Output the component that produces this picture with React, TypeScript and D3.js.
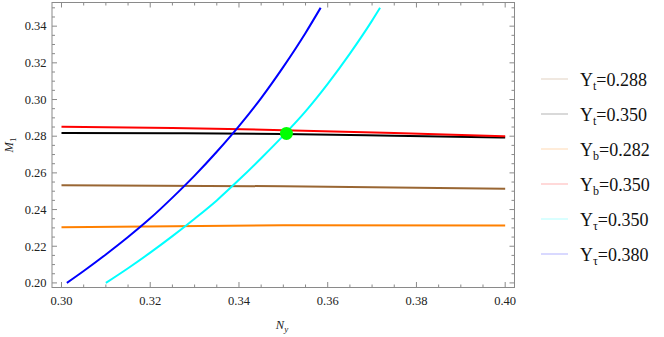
import * as d3 from "d3";

// curves: [Ny, M1]
const blueTau380: [number, number][] = [
  [0.3012, 0.2], [0.305, 0.2065], [0.31, 0.2155], [0.315, 0.225], [0.32, 0.2352],
  [0.325, 0.2465], [0.33, 0.2585], [0.335, 0.2715], [0.34, 0.2855], [0.345, 0.3008],
  [0.35, 0.3178], [0.355, 0.3363], [0.3584, 0.35],
];
const cyanTau350: [number, number][] = [
  [0.31, 0.2], [0.315, 0.208], [0.32, 0.2165], [0.325, 0.2255], [0.33, 0.235],
  [0.335, 0.245], [0.34, 0.2562], [0.345, 0.268], [0.35, 0.2803], [0.355, 0.2935],
  [0.36, 0.3085], [0.365, 0.325], [0.37, 0.343], [0.3718, 0.35],
];
const redB350: [number, number][] = [
  [0.3, 0.2852], [0.325, 0.2845], [0.35, 0.2833], [0.375, 0.2818], [0.4, 0.28],
];
const blackT350: [number, number][] = [
  [0.3, 0.2818], [0.325, 0.2816], [0.35, 0.2812], [0.375, 0.2803], [0.4, 0.2793],
];
const brownT288: [number, number][] = [
  [0.3, 0.2533], [0.35, 0.2527], [0.4, 0.2513],
];
const orangeB282: [number, number][] = [
  [0.3, 0.2304], [0.35, 0.2314], [0.4, 0.2313],
];
const point: [number, number] = [0.3507, 0.2815];

const xTicks = [0.3, 0.32, 0.34, 0.36, 0.38, 0.4];
const yTicks = [0.2, 0.22, 0.24, 0.26, 0.28, 0.3, 0.32, 0.34];

const legendNames = ["Y", "Y", "Y", "Y", "Y", "Y"];
const legendSubs = ["t", "t", "b", "b", "τ", "τ"];
const legendValues = ["0.288", "0.350", "0.282", "0.350", "0.350", "0.380"];
const legendColors = ["#996633", "#000000", "#ff8000", "#ff0000", "#00ffff", "#0000ff"];

const series = [
  { data: orangeB282, color: "#ff8000" },
  { data: brownT288, color: "#996633" },
  { data: blackT350, color: "#000000" },
  { data: redB350, color: "#ff0000" },
  { data: blueTau380, color: "#0000ff" },
  { data: cyanTau350, color: "#00ffff" },
];

const W = 664;
const H = 337;
const left = 52;
const right = 514.5;
const top = 2.5;
const bottom = 287.5;

export default function App() {
  const x = d3.scaleLinear().domain([0.29786, 0.4021]).range([left, right]);
  const y = d3.scaleLinear().domain([0.1975, 0.3529]).range([bottom, top]);
  const line = d3
    .line<[number, number]>()
    .x((d) => x(d[0]))
    .y((d) => y(d[1]))
    .curve(d3.curveMonotoneX);

  const minorX = d3.range(0.3, 0.4001, 0.005).filter((v) => !xTicks.some((t) => Math.abs(t - v) < 1e-6));
  const minorY = d3.range(0.2, 0.3501, 0.005).filter((v) => !yTicks.some((t) => Math.abs(t - v) < 1e-6));
  const frame = "#8a8a8a";
  const serif = { fontFamily: '"Liberation Serif", "Times New Roman", Tinos, "DejaVu Serif", serif' };

  return (
    <svg width={W} height={H} style={{ position: "absolute", left: 0, top: 0, background: "#fff", ...serif }}>
      <defs>
        <clipPath id="plot">
          <rect x={left} y={top} width={right - left} height={bottom - top} />
        </clipPath>
      </defs>
      <rect x={left} y={top} width={right - left} height={bottom - top} fill="none" stroke={frame} strokeWidth={1} />

      {/* x ticks, bottom and top */}
      {xTicks.map((t) => (
        <g key={"xt" + t}>
          <line x1={x(t)} x2={x(t)} y1={bottom} y2={bottom - 5.5} stroke={frame} />
          <line x1={x(t)} x2={x(t)} y1={top} y2={top + 5} stroke={frame} />
          <text x={x(t)} y={305} textAnchor="middle" fontSize={12.5} style={serif} fill="#222">
            {t.toFixed(2)}
          </text>
        </g>
      ))}
      {minorX.map((t) => (
        <g key={"xm" + t}>
          <line x1={x(t)} x2={x(t)} y1={bottom} y2={bottom - 3} stroke={frame} />
          <line x1={x(t)} x2={x(t)} y1={top} y2={top + 3} stroke={frame} />
        </g>
      ))}

      {/* y ticks, left and right */}
      {yTicks.map((t) => (
        <g key={"yt" + t}>
          <line x1={left} x2={left + 5} y1={y(t)} y2={y(t)} stroke={frame} />
          <line x1={right} x2={right - 5} y1={y(t)} y2={y(t)} stroke={frame} />
          <text x={46.5} y={y(t) + 4.3} textAnchor="end" fontSize={12.5} style={serif} fill="#222">
            {t.toFixed(2)}
          </text>
        </g>
      ))}
      {minorY.map((t) => (
        <g key={"ym" + t}>
          <line x1={left} x2={left + 3} y1={y(t)} y2={y(t)} stroke={frame} />
          <line x1={right} x2={right - 3} y1={y(t)} y2={y(t)} stroke={frame} />
        </g>
      ))}

      <g clipPath="url(#plot)">
        {series.map((s, i) => (
          <path key={i} d={line(s.data) ?? ""} fill="none" stroke={s.color} strokeWidth={2} />
        ))}
        <circle cx={x(point[0])} cy={y(point[1])} r={6.5} fill="#00ff00" />
      </g>

      {/* axis titles */}
      <text x={282} y={329} textAnchor="middle" fontSize={12.5} style={serif} fill="#222">
        <tspan fontStyle="italic">N</tspan>
        <tspan fontStyle="italic" fontSize={9} dy={3}>y</tspan>
      </text>
      <text
        transform={`translate(13, ${(top + bottom) / 2}) rotate(-90)`}
        textAnchor="middle"
        fontSize={12.5}
        style={serif}
        fill="#222"
      >
        <tspan fontStyle="italic">M</tspan>
        <tspan fontSize={9} dy={3}>1</tspan>
      </text>

      {/* legend */}
      {legendValues.map((v, i) => {
        const ry = 79 + i * 35;
        return (
          <g key={"lg" + i}>
            <line x1={541} x2={568} y1={ry} y2={ry} stroke={legendColors[i]} strokeOpacity={0.3} strokeWidth={1} />
            <text x={580} y={ry + 6.5} fontSize={18} style={serif} fill="#111">
              {legendNames[i]}
              <tspan fontSize={12} dy={4}>{legendSubs[i]}</tspan>
              <tspan dy={-4}>={v}</tspan>
            </text>
          </g>
        );
      })}
    </svg>
  );
}
